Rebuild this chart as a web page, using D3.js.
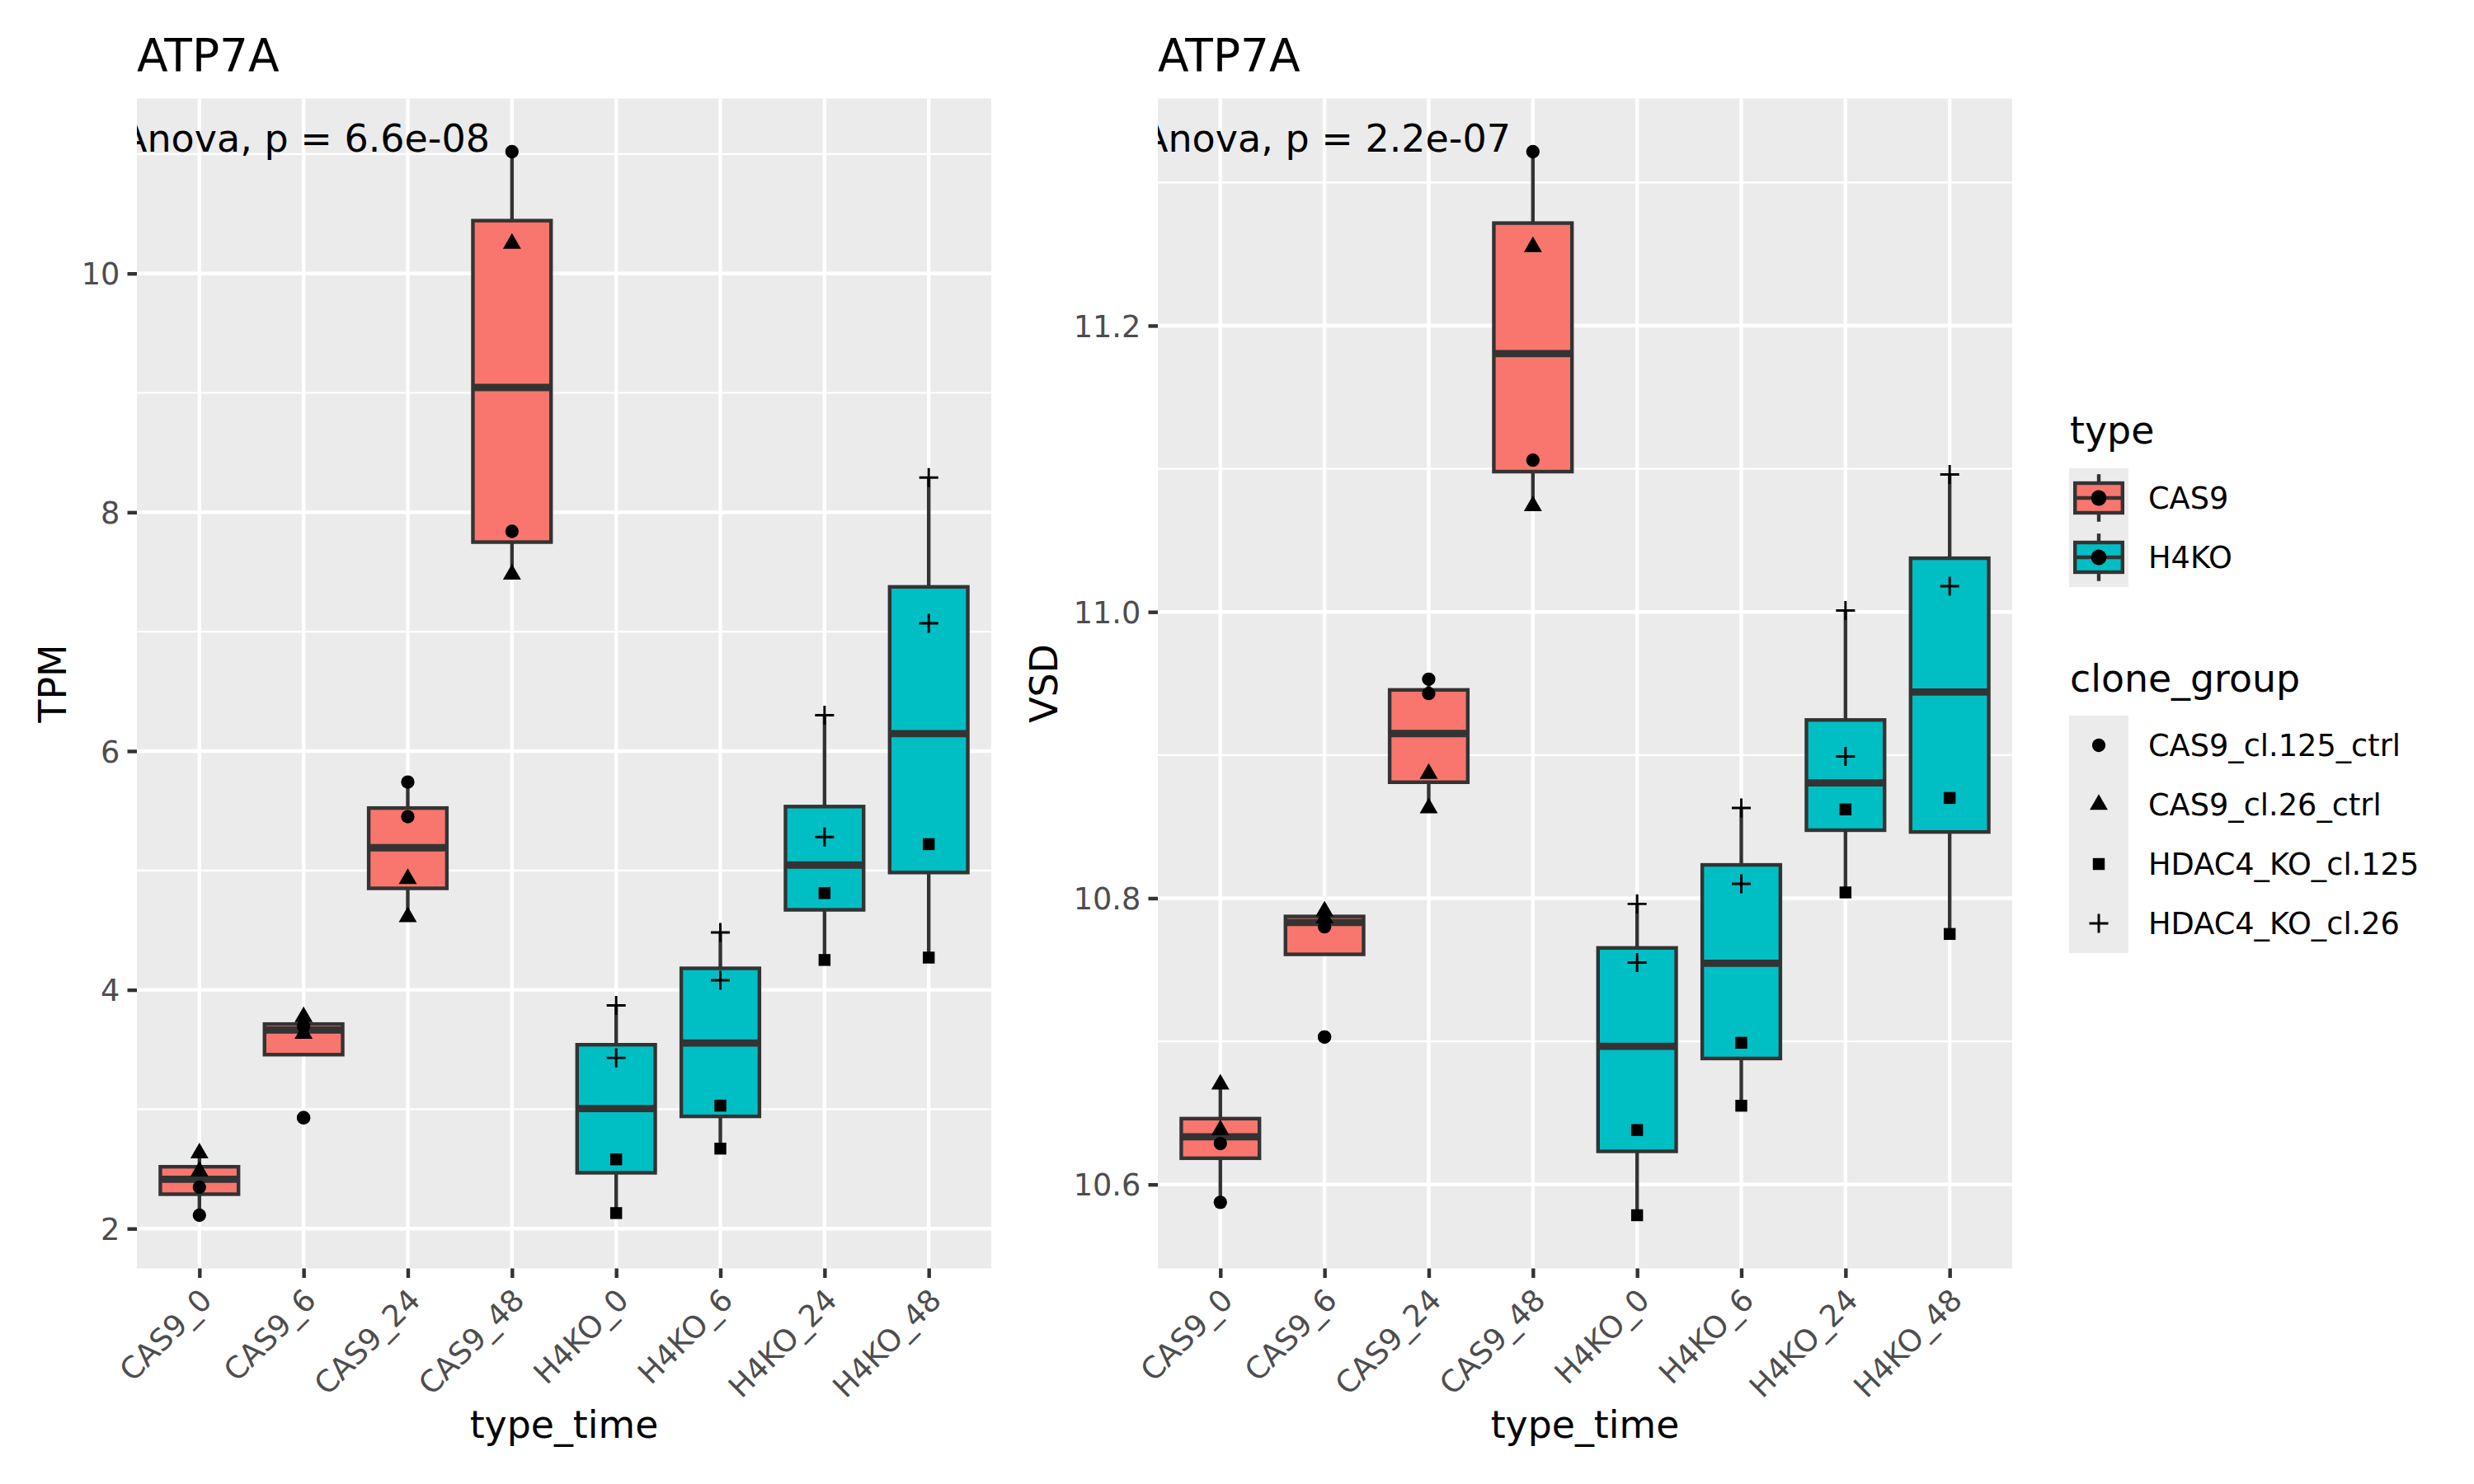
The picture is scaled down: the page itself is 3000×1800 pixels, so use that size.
<!DOCTYPE html>
<html>
<head>
<meta charset="utf-8">
<script src="https://cdn.jsdelivr.net/npm/d3@7"></script>
<style>
  html, body { margin: 0; padding: 0; background: #ffffff; }
  svg { display: block; font-family: "DejaVu Sans", sans-serif; }
</style>
</head>
<body>
<svg id="chart" width="3000" height="1800"></svg>
<script>
// ---------------- DATA ----------------
const categories = ["CAS9_0", "CAS9_6", "CAS9_24", "CAS9_48", "H4KO_0", "H4KO_6", "H4KO_24", "H4KO_48"];
const categoryType = ["CAS9", "CAS9", "CAS9", "CAS9", "H4KO", "H4KO", "H4KO", "H4KO"];
const typeLevels = ["CAS9", "H4KO"];
const cloneGroups = ["CAS9_cl.125_ctrl", "CAS9_cl.26_ctrl", "HDAC4_KO_cl.125", "HDAC4_KO_cl.26"];

// TPM values per category (two replicates per clone group)
const tpm_CAS9_cl125_ctrl = [[2.347, 2.112], [3.693, 2.929], [5.74, 5.45], [11.02, 7.84], [], [], [], []];
const tpm_CAS9_cl26_ctrl  = [[2.632, 2.48], [3.774, 3.633], [4.93, 4.61], [10.25, 7.48], [], [], [], []];
const tpm_HDAC4_KO_cl125  = [[], [], [], [], [2.58, 2.13], [3.03, 2.67], [4.81, 4.25], [5.22, 4.27]];
const tpm_HDAC4_KO_cl26   = [[], [], [], [], [3.87, 3.43], [4.48, 4.08], [6.30, 5.28], [8.29, 7.07]];

// VSD values per category
const vsd_CAS9_cl125_ctrl = [[10.6286, 10.5875], [10.780, 10.703], [10.953, 10.943], [11.3215, 11.106], [], [], [], []];
const vsd_CAS9_cl26_ctrl  = [[10.670, 10.638], [10.791, 10.786], [10.887, 10.863], [11.255, 11.074], [], [], [], []];
const vsd_HDAC4_KO_cl125  = [[], [], [], [], [10.638, 10.5785], [10.699, 10.655], [10.862, 10.804], [10.870, 10.775]];
const vsd_HDAC4_KO_cl26   = [[], [], [], [], [10.796, 10.755], [10.863, 10.810], [11.001, 10.899], [11.096, 11.018]];

// tick values / labels
const tpmTicks = [2, 4, 6, 8, 10];
const tpmMinorTicks = [3, 5, 7, 9, 11];
const tpmTickLabels = ["2", "4", "6", "8", "10"];
const vsdTicks = [10.6, 10.8, 11.0, 11.2];
const vsdMinorTicks = [10.7, 10.9, 11.1, 11.3];
const vsdTickLabels = ["10.6", "10.8", "11.0", "11.2"];

const titles = ["ATP7A", "ATP7A"];
const yTitles = ["TPM", "VSD"];
const xTitle = "type_time";
const anovaLabels = ["Anova, p = 6.6e-08", "Anova, p = 2.2e-07"];

// ---------------- STYLE ----------------
const fillColors = { "CAS9": "#F8766D", "H4KO": "#00BFC4" };
const panelBg = "#EBEBEB";
const lineCol = "#333333";
const lw = 4.4;
const tickFont = 36.7, axisTitleFont = 45.8, titleFont = 55, anovaFont = 46;

// R point shapes (size 1.5 @300dpi)
const R0 = 8.14;
function shapePath(shape) {
  if (shape === 0) { // circle
    return `M${R0},0 A${R0},${R0} 0 1,1 ${-R0},0 A${R0},${R0} 0 1,1 ${R0},0 Z`;
  } else if (shape === 1) { // triangle
    const r = 1.5551 * R0, yc = 0.7776 * R0, xc = 1.3468 * R0;
    return `M0,${-r} L${xc},${yc} L${-xc},${yc} Z`;
  } else if (shape === 2) { // square
    const h = 0.8862 * R0;
    return `M${-h},${-h} H${h} V${h} H${-h} Z`;
  } else { // plus
    const a = 1.4142 * R0;
    return `M${-a},0 H${a} M0,${-a} V${a}`;
  }
}
function drawShape(g, shape, x, y) {
  const p = g.append("path").attr("d", shapePath(shape)).attr("transform", `translate(${x},${y})`);
  if (shape === 3) p.attr("fill", "none").attr("stroke", "#000").attr("stroke-width", 2.95);
  else p.attr("fill", "#000").attr("stroke", "none");
  return p;
}

const svg = d3.select("#chart");

function drawPanel(cfg) {
  const { left, right, top, bottom, series, ticks, minorTicks, tickLabels, title, yTitle, yTitleX, anova, idx } = cfg;

  // collect all values
  const allVals = [];
  series.forEach(s => s.forEach(arr => arr.forEach(v => allVals.push(v))));
  const vmin = d3.min(allVals), vmax = d3.max(allVals);
  const pad = (vmax - vmin) * 0.05;

  const x = d3.scalePoint().domain(categories).range([left, right]).padding(0.6);
  const y = d3.scaleLinear().domain([vmin - pad, vmax + pad]).range([bottom, top]);
  const step = x.step();
  const boxW = step * 0.75;

  const clipId = "clip" + idx;
  svg.append("clipPath").attr("id", clipId)
    .append("rect").attr("x", left).attr("y", top).attr("width", right - left).attr("height", bottom - top);

  // panel background
  svg.append("rect").attr("x", left).attr("y", top).attr("width", right - left).attr("height", bottom - top)
    .attr("fill", panelBg);

  const grid = svg.append("g").attr("clip-path", `url(#${clipId})`);
  grid.selectAll("line.minor").data(minorTicks.filter(t => y(t) >= top && y(t) <= bottom)).join("line")
    .attr("x1", left).attr("x2", right).attr("y1", d => y(d)).attr("y2", d => y(d))
    .attr("stroke", "#fff").attr("stroke-width", lw / 2);
  grid.selectAll("line.major").data(ticks).join("line")
    .attr("x1", left).attr("x2", right).attr("y1", d => y(d)).attr("y2", d => y(d))
    .attr("stroke", "#fff").attr("stroke-width", lw);
  grid.selectAll("line.vmajor").data(categories).join("line")
    .attr("x1", d => x(d)).attr("x2", d => x(d)).attr("y1", top).attr("y2", bottom)
    .attr("stroke", "#fff").attr("stroke-width", lw);

  const plot = svg.append("g").attr("clip-path", `url(#${clipId})`);

  // boxplots
  categories.forEach((cat, ci) => {
    const vals = [];
    series.forEach(s => s[ci].forEach(v => vals.push(v)));
    if (!vals.length) return;
    vals.sort(d3.ascending);
    const q1 = d3.quantile(vals, 0.25), med = d3.quantile(vals, 0.5), q3 = d3.quantile(vals, 0.75);
    const iqr = q3 - q1;
    const lo = d3.min(vals.filter(v => v >= q1 - 1.5 * iqr));
    const hi = d3.max(vals.filter(v => v <= q3 + 1.5 * iqr));
    const outliers = vals.filter(v => v < q1 - 1.5 * iqr || v > q3 + 1.5 * iqr);
    const cx = x(cat);
    const g = plot.append("g");
    g.append("line").attr("x1", cx).attr("x2", cx).attr("y1", y(q3)).attr("y2", y(hi))
      .attr("stroke", lineCol).attr("stroke-width", lw);
    g.append("line").attr("x1", cx).attr("x2", cx).attr("y1", y(q1)).attr("y2", y(lo))
      .attr("stroke", lineCol).attr("stroke-width", lw);
    g.append("rect").attr("x", cx - boxW / 2).attr("width", boxW)
      .attr("y", y(q3)).attr("height", y(q1) - y(q3))
      .attr("fill", fillColors[categoryType[ci]]).attr("stroke", lineCol).attr("stroke-width", lw);
    g.append("line").attr("x1", cx - boxW / 2).attr("x2", cx + boxW / 2).attr("y1", y(med)).attr("y2", y(med))
      .attr("stroke", lineCol).attr("stroke-width", lw * 2);
    outliers.forEach(v => drawShape(g, 0, cx, y(v)));
  });

  // points
  const pts = plot.append("g");
  series.forEach((s, si) => {
    s.forEach((arr, ci) => arr.forEach(v => drawShape(pts, si, x(categories[ci]), y(v))));
  });

  // anova label
  plot.append("text").attr("x", left - 19).attr("y", y(vmax))
    .attr("font-size", anovaFont).attr("fill", "#000").text(anova);

  // y axis
  const yAxis = d3.axisLeft(y).tickValues(ticks).tickSize(11.5).tickPadding(9.2)
    .tickFormat((d, i) => tickLabels[i]);
  const ya = svg.append("g").attr("transform", `translate(${left},0)`).call(yAxis);
  ya.select(".domain").remove();
  ya.selectAll(".tick line").attr("stroke", lineCol).attr("stroke-width", lw);
  ya.selectAll(".tick text").attr("font-size", tickFont).attr("fill", "#4D4D4D")
    .attr("font-family", "DejaVu Sans").attr("dy", "0.36em");

  // x axis
  const xAxis = d3.axisBottom(x).tickSize(11.5).tickPadding(9.2);
  const xa = svg.append("g").attr("transform", `translate(0,${bottom})`).call(xAxis);
  xa.select(".domain").remove();
  xa.selectAll(".tick line").attr("stroke", lineCol).attr("stroke-width", lw);
  xa.selectAll(".tick text").attr("font-size", tickFont).attr("fill", "#4D4D4D")
    .attr("font-family", "DejaVu Sans")
    .attr("x", 0).attr("y", 0).attr("dy", "0.72em")
    .attr("text-anchor", "end")
    .attr("transform", "translate(-2,22) rotate(-45)");

  // titles
  svg.append("text").attr("x", left).attr("y", 86).attr("font-size", titleFont).attr("fill", "#000").text(title);
  svg.append("text").attr("x", (left + right) / 2).attr("y", 1744).attr("text-anchor", "middle")
    .attr("font-size", axisTitleFont).attr("fill", "#000").text(xTitle);
  svg.append("text").attr("transform", `translate(${yTitleX},${(top + bottom) / 2}) rotate(-90)`)
    .attr("text-anchor", "middle").attr("font-size", axisTitleFont).attr("fill", "#000").text(yTitle);
}

const panelTop = 119.5, panelBottom = 1538.5;
drawPanel({
  idx: 0, left: 166, right: 1202, top: panelTop, bottom: panelBottom,
  series: [tpm_CAS9_cl125_ctrl, tpm_CAS9_cl26_ctrl, tpm_HDAC4_KO_cl125, tpm_HDAC4_KO_cl26],
  ticks: tpmTicks, minorTicks: tpmMinorTicks, tickLabels: tpmTickLabels,
  title: titles[0], yTitle: yTitles[0], yTitleX: 79.7, anova: anovaLabels[0]
});
drawPanel({
  idx: 1, left: 1404, right: 2440, top: panelTop, bottom: panelBottom,
  series: [vsd_CAS9_cl125_ctrl, vsd_CAS9_cl26_ctrl, vsd_HDAC4_KO_cl125, vsd_HDAC4_KO_cl26],
  ticks: vsdTicks, minorTicks: vsdMinorTicks, tickLabels: vsdTickLabels,
  title: titles[1], yTitle: yTitles[1], yTitleX: 1282, anova: anovaLabels[1]
});

// ---------------- LEGENDS ----------------
const legX = 2509, keyW = 72, keyH = 72, labelX = 2605;
const leg = svg.append("g");
leg.append("text").attr("x", legX + 1).attr("y", 538).attr("font-size", axisTitleFont).attr("fill", "#000").text("type");
typeLevels.forEach((t, i) => {
  const ky = 568 + i * keyH;
  const cx = legX + keyW / 2;
  leg.append("rect").attr("x", legX).attr("y", ky).attr("width", keyW).attr("height", keyH).attr("fill", panelBg);
  leg.append("line").attr("x1", cx).attr("x2", cx).attr("y1", ky + 0.1 * keyH).attr("y2", ky + 0.25 * keyH)
    .attr("stroke", lineCol).attr("stroke-width", lw);
  leg.append("line").attr("x1", cx).attr("x2", cx).attr("y1", ky + 0.75 * keyH).attr("y2", ky + 0.9 * keyH)
    .attr("stroke", lineCol).attr("stroke-width", lw);
  leg.append("rect").attr("x", legX + 0.1 * keyW).attr("y", ky + 0.25 * keyH)
    .attr("width", 0.8 * keyW).attr("height", 0.5 * keyH)
    .attr("fill", fillColors[t]).attr("stroke", lineCol).attr("stroke-width", lw);
  leg.append("line").attr("x1", legX + 0.1 * keyW).attr("x2", legX + 0.9 * keyW)
    .attr("y1", ky + 0.5 * keyH).attr("y2", ky + 0.5 * keyH)
    .attr("stroke", lineCol).attr("stroke-width", lw);
  leg.append("circle").attr("cx", cx).attr("cy", ky + keyH / 2).attr("r", 9.4).attr("fill", "#000");
  leg.append("text").attr("x", labelX).attr("y", ky + keyH / 2).attr("dy", "0.36em")
    .attr("font-size", tickFont).attr("fill", "#000").text(t);
});

leg.append("text").attr("x", legX + 1).attr("y", 839).attr("font-size", axisTitleFont).attr("fill", "#000").text("clone_group");
cloneGroups.forEach((c, i) => {
  const ky = 868 + i * keyH;
  leg.append("rect").attr("x", legX).attr("y", ky).attr("width", keyW).attr("height", keyH).attr("fill", panelBg);
  drawShape(leg, i, legX + keyW / 2, ky + keyH / 2);
  leg.append("text").attr("x", labelX).attr("y", ky + keyH / 2).attr("dy", "0.36em")
    .attr("font-size", tickFont).attr("fill", "#000").text(c);
});
</script>
</body>
</html>
